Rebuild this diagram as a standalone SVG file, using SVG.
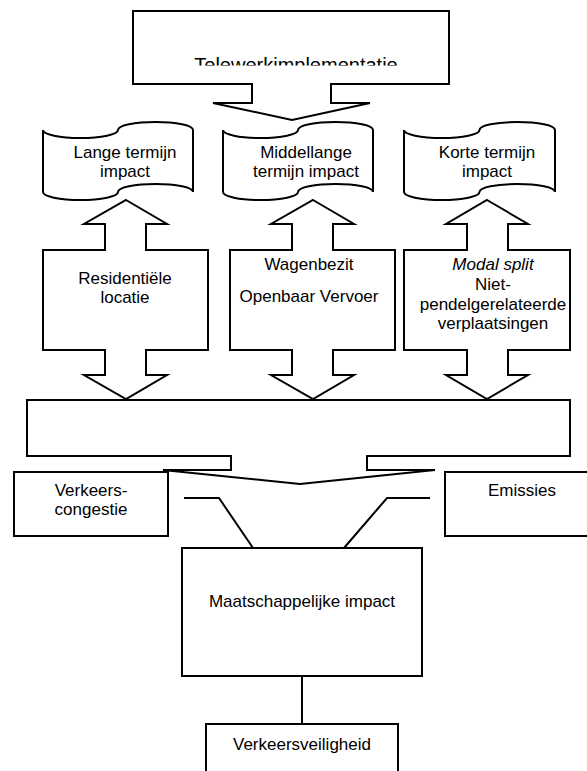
<svg xmlns="http://www.w3.org/2000/svg" width="587" height="771" viewBox="0 0 587 771">
<style>
.s{fill:#fff;stroke:#000;stroke-width:2;stroke-linejoin:miter}
.c{fill:none;stroke:#000;stroke-width:2}
text{font-family:"Liberation Sans",Arial,sans-serif;font-size:17px;fill:#000;text-anchor:middle}
</style>
<defs>
<clipPath id="topclip"><rect x="134" y="12" width="314" height="53.5"/></clipPath>
</defs>
<rect width="587" height="771" fill="#fff"/>
<g id="telewerk">
<path class="s" d="M133,11 H449 V84 H331 V103 H370 L292,120 L213,103 H252 V84 H133 Z"/>
<text x="296" y="71.5" style="font-size:20px" clip-path="url(#topclip)">Telewerkimplementatie</text>
</g>
<g id="lange">
<path class="s" d="M43,130 A37.5,8 0 0 0 118,130 A37.5,8 0 0 1 193,130 V192 A37.5,8 0 0 0 118,192 A37.5,8 0 0 1 43,192 Z"/>
<text x="125" y="158">Lange termijn</text>
<text x="125" y="177">impact</text>
</g>
<g id="middellange">
<path class="s" d="M223,130 A37.5,8 0 0 0 298,130 A37.5,8 0 0 1 373,130 V192 A37.5,8 0 0 0 298,192 A37.5,8 0 0 1 223,192 Z"/>
<text x="306" y="158">Middellange</text>
<text x="306" y="177">termijn impact</text>
</g>
<g id="korte">
<path class="s" d="M404,130 A37.75,8 0 0 0 479.5,130 A37.75,8 0 0 1 555,130 V192 A37.75,8 0 0 0 479.5,192 A37.75,8 0 0 1 404,192 Z"/>
<text x="487" y="158">Korte termijn</text>
<text x="487" y="177">impact</text>
</g>
<g id="residentieel">
<path class="s" d="M126,200 L167,224 H146 V250 H208 V350 H146 V375 H167 L126,399 L84,375 H105 V350 H43 V250 H105 V224 H84 Z"/>
<text x="125" y="284">Residentiële</text>
<text x="125" y="303">locatie</text>
</g>
<g id="wagenbezit">
<path class="s" d="M313,200 L354,224 H333 V250 H395 V350 H333 V375 H354 L313,399 L271,375 H292 V350 H230 V250 H292 V224 H271 Z"/>
<text x="309" y="270">Wagenbezit</text>
<text x="309" y="302">Openbaar Vervoer</text>
</g>
<g id="modalsplit">
<path class="s" d="M487,200 L528,224 H508 V250 H570 V350 H508 V375 H528 L487,399 L446,375 H467 V350 H404 V250 H467 V224 H446 Z"/>
<text x="493" y="270" font-style="italic">Modal split</text>
<text x="493" y="290">Niet-</text>
<text x="493" y="310">pendelgerelateerde</text>
<text x="493" y="329">verplaatsingen</text>
</g>
<g id="hoofdvak">
<path class="s" d="M27,400 H570 V456 H367 V470 H435 L300,484 L163,470 H231 V456 H27 Z"/>
</g>
<g id="congestie">
<rect class="s" x="14" y="472" width="154" height="64"/>
<text x="91" y="496">Verkeers-</text>
<text x="91" y="515">congestie</text>
</g>
<g id="emissies">
<rect class="s" x="445" y="472" width="150" height="64"/>
<text x="522" y="496">Emissies</text>
</g>
<g id="maatschappelijk">
<rect class="s" x="182" y="548" width="240" height="128"/>
<text x="302" y="607">Maatschappelijke impact</text>
</g>
<g id="veiligheid">
<rect class="s" x="206" y="724" width="192" height="70"/>
<text x="302" y="750">Verkeersveiligheid</text>
</g>
<g id="connectors">
<polyline class="c" points="184,498 219,498 253,548"/>
<polyline class="c" points="430,498 387,498 344,548"/>
<line class="c" x1="302" y1="676" x2="302" y2="724"/>
</g>
</svg>
